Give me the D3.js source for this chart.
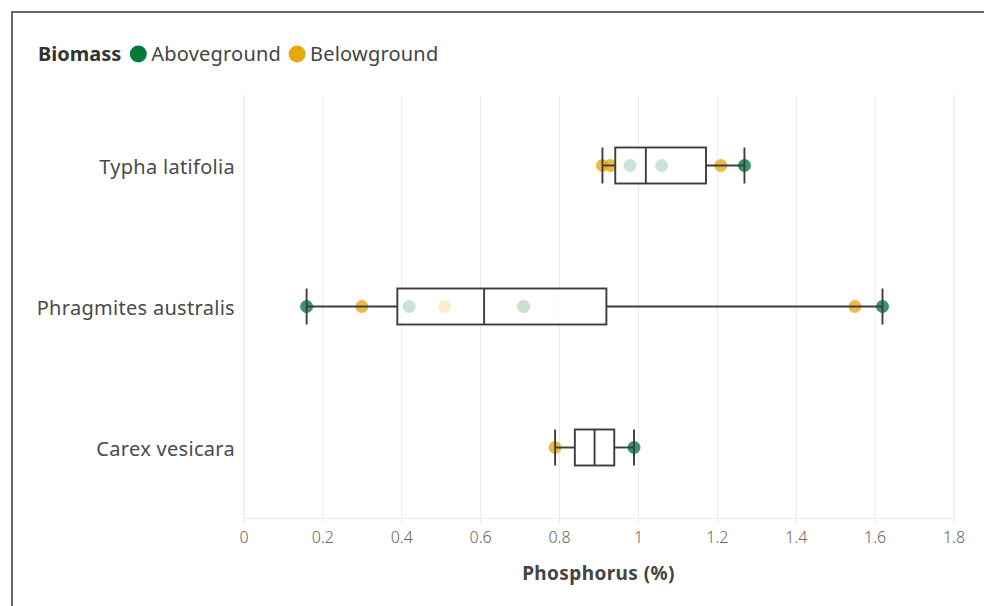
<!DOCTYPE html>
<html>
<head>
<meta charset="utf-8">
<script src="https://cdn.jsdelivr.net/npm/d3@7"></script>
<style>
  body { margin: 0; background: #fff; }
  text { font-family: "Noto Sans", sans-serif; }
</style>
</head>
<body>
<div id="chart"></div>
<script>
//Data
var species = ["Typha latifolia", "Phragmites australis", "Carex vesicara"]
var aboveground = [[0.98, 1.06, 1.27], [0.16, 0.42, 0.71, 1.62], [0.99]]
var belowground = [[0.91, 0.93, 1.21], [0.30, 0.51, 0.71, 1.55], [0.79]]
var xTicks = [0, 0.2, 0.4, 0.6, 0.8, 1, 1.2, 1.4, 1.6, 1.8]

var green = "#007a3d"
var yellow = "#e8a70f"

var width = 984
var height = 606
var margin = {top: 95, left: 243.5, right: 30.5, bottom: 88}

var svg = d3.select("#chart")
            .append("svg")
            .attr("width", width)
            .attr("height", height)

//Frame around the chart
svg.append("rect")
   .attr("x", 12)
   .attr("y", 12)
   .attr("width", 1000)
   .attr("height", 1000)
   .attr("fill", "none")
   .attr("stroke", "#666")
   .attr("stroke-width", 2)

//Scales
var x = d3.scaleLinear()
          .domain([0, 1.8])
          .range([margin.left, width - margin.right])

var y = d3.scalePoint()
          .domain(species)
          .range([margin.top, height - margin.bottom])
          .padding(0.5)

//Grid lines and x axis
var xAxis = d3.axisBottom(x)
              .tickValues(xTicks)
              .tickSize(-(height - margin.bottom - margin.top))
              .tickPadding(14)
              .tickFormat(d3.format("~g"))

var gx = svg.append("g")
            .attr("transform", "translate(0," + (height - margin.bottom) + ")")
            .call(xAxis)

gx.select(".domain").attr("stroke", "#ebebeb")
gx.selectAll(".tick line").attr("stroke", "#ebebeb").attr("y2", 5).attr("y1", -(height - margin.bottom - margin.top))
gx.selectAll(".tick text")
  .attr("fill", "#666")
  .style("font-size", "16px")
  .style("font-weight", 300)

//x axis title
svg.append("text")
   .text("Phosphorus (%)")
   .attr("x", (x(0) + x(1.8)) / 2)
   .attr("y", 580)
   .attr("text-anchor", "middle")
   .attr("fill", "#444")
   .style("font-size", "19px")
   .style("letter-spacing", "0.4px")
   .style("font-weight", "bold")

//Species labels
svg.selectAll(".ylabel")
   .data(species)
   .enter()
   .append("text")
   .attr("class", "ylabel")
   .text(function(d){ return d })
   .attr("x", 235)
   .attr("y", function(d){ return y(d) })
   .attr("dy", "0.42em")
   .attr("text-anchor", "end")
   .attr("fill", "#4a4a4a")
   .style("font-size", "20px")
   .style("letter-spacing", "0.3px")

//Points, drawn before the boxes so the boxes fade the inner ones
var points = []
species.forEach(function(s, i){
  belowground[i].forEach(function(v){ points.push({species: s, value: v, color: yellow}) })
  aboveground[i].forEach(function(v){ points.push({species: s, value: v, color: green}) })
})

svg.selectAll(".pt")
   .data(points)
   .enter()
   .append("circle")
   .attr("class", "pt")
   .attr("cx", function(d){ return x(d.value) })
   .attr("cy", function(d){ return y(d.species) })
   .attr("r", 6.5)
   .attr("fill", function(d){ return d.color })
   .style("opacity", 0.78)

//Box plots computed from all the values of each species
var boxH = 36
species.forEach(function(s, i){
  var vals = aboveground[i].concat(belowground[i]).sort(d3.ascending)
  var q1 = d3.quantile(vals, 0.25)
  var med = d3.quantile(vals, 0.5)
  var q3 = d3.quantile(vals, 0.75)
  var lo = d3.min(vals)
  var hi = d3.max(vals)
  var cy = y(s)
  var g = svg.append("g")
             .attr("stroke", "#3d3d3d")
             .attr("stroke-width", 1.9)

  //whiskers
  g.append("line").attr("x1", x(lo)).attr("x2", x(q1)).attr("y1", cy).attr("y2", cy)
  g.append("line").attr("x1", x(q3)).attr("x2", x(hi)).attr("y1", cy).attr("y2", cy)
  g.append("line").attr("x1", x(lo)).attr("x2", x(lo)).attr("y1", cy - boxH / 2).attr("y2", cy + boxH / 2)
  g.append("line").attr("x1", x(hi)).attr("x2", x(hi)).attr("y1", cy - boxH / 2).attr("y2", cy + boxH / 2)

  //box
  g.append("rect")
   .attr("x", x(q1))
   .attr("y", cy - boxH / 2)
   .attr("width", x(q3) - x(q1))
   .attr("height", boxH)
   .attr("fill", "#fff")
   .attr("fill-opacity", 0.73)

  //median
  g.append("line").attr("x1", x(med)).attr("x2", x(med)).attr("y1", cy - boxH / 2).attr("y2", cy + boxH / 2)
})

//Legend
var legend = svg.append("g")
var lx = 38
var ly = 54
var title = legend.append("text")
                  .text("Biomass")
                  .attr("x", lx)
                  .attr("y", ly)
                  .attr("dy", "0.35em")
                  .attr("fill", "#333")
                  .style("font-size", "20px")
                  .style("font-weight", "bold")
lx += title.node().getComputedTextLength() + 9

var items = [["Aboveground", green], ["Belowground", yellow]]
items.forEach(function(it){
  legend.append("circle")
        .attr("cx", lx + 8)
        .attr("cy", ly)
        .attr("r", 8.5)
        .attr("fill", it[1])
  var t = legend.append("text")
                .text(it[0])
                .attr("x", lx + 21)
                .attr("y", ly)
                .attr("dy", "0.35em")
                .attr("fill", "#444")
                .style("font-size", "20px")
                .style("letter-spacing", "0.2px")
  lx += 21 + t.node().getComputedTextLength() + 8
})
</script>
</body>
</html>
